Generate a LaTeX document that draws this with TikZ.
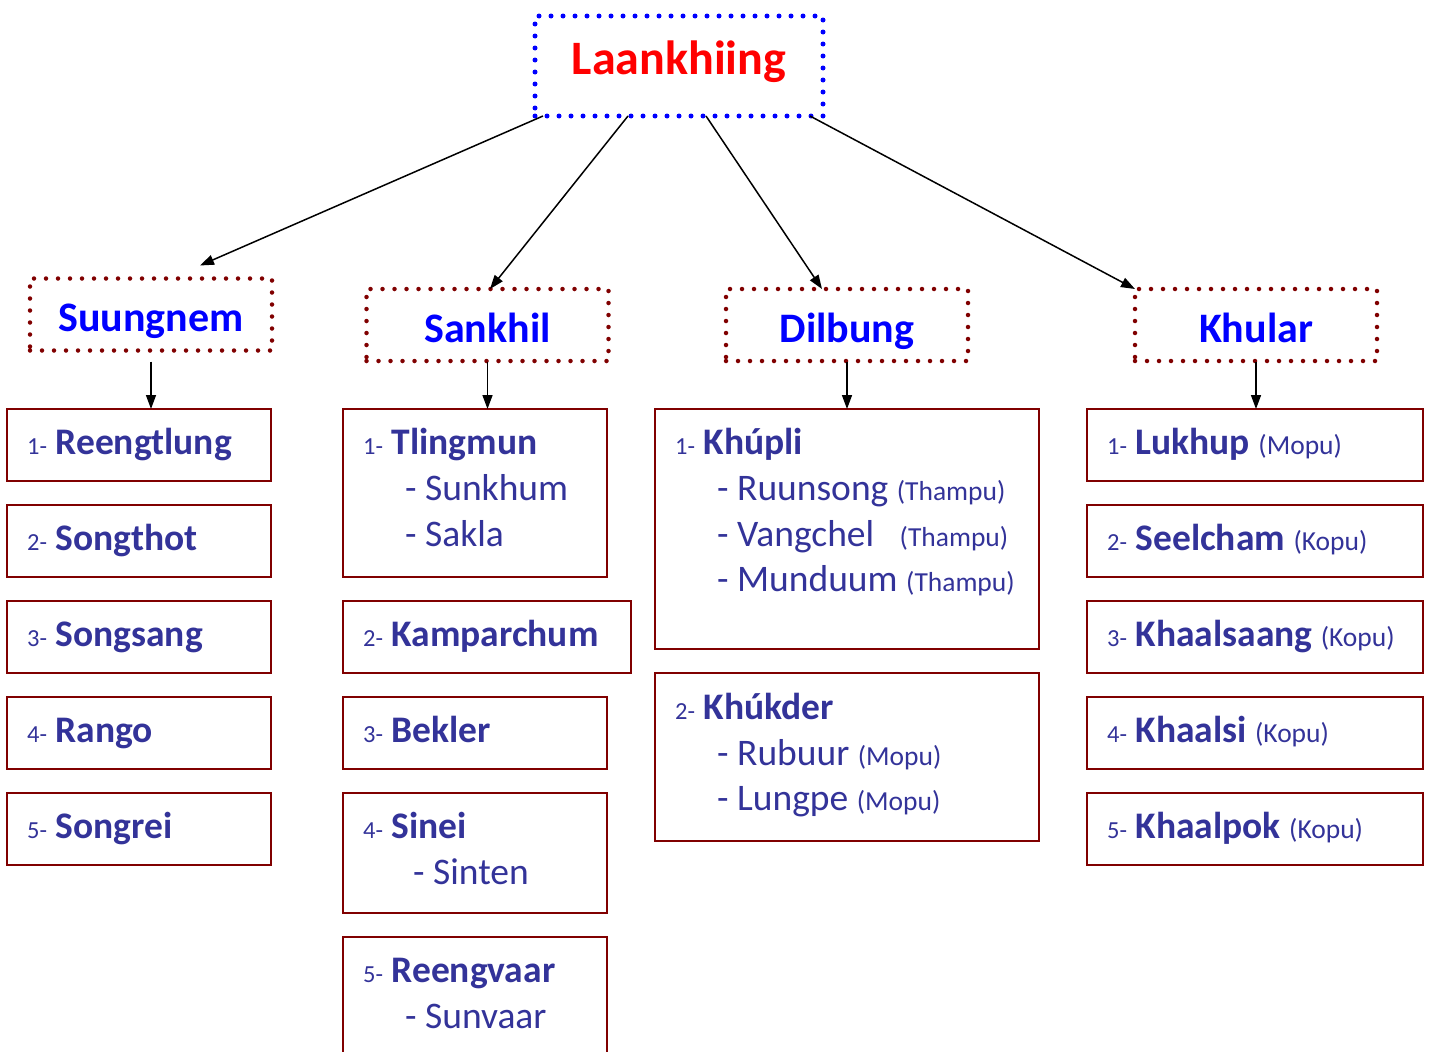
\documentclass[tikz,border=0pt]{standalone}
\usepackage{fontspec}
\setmainfont{Carlito}
\usepackage{xcolor}
\usetikzlibrary{calc,arrows.meta,positioning}
\definecolor{itemblue}{RGB}{51,51,153}
\definecolor{boxred}{RGB}{128,0,0}
\newcommand{\numf}{\fontsize{24.5}{28}\selectfont}
\newcommand{\parf}{\fontsize{27.5}{30}\selectfont}

\begin{document}
\begin{tikzpicture}[
  x=1pt, y=-1pt,
  topbox/.style={draw=blue, line width=5pt, dash pattern=on 0pt off 12pt, line cap=round, minimum width=288pt, minimum height=100pt, outer sep=0pt, text height=16pt, text depth=0pt, text=red, font=\fontsize{48}{56}\selectfont\bfseries},
  catbox/.style={draw=boxred, line width=4.5pt, dash pattern=on 0pt off 12pt, line cap=round, minimum width=242pt, minimum height=72pt, outer sep=0pt, text height=34pt, text depth=0pt, text=blue, font=\fontsize{42}{48}\selectfont\bfseries},
  itembox/.style={draw=boxred, line width=1.2pt, anchor=north west, minimum width=264pt, minimum height=72pt, outer sep=0pt, inner sep=0pt},
  lbl/.style={anchor=base west, inner sep=0pt, text=itemblue, font=\fontsize{37.5}{44}\selectfont},
  arr/.style={-{Triangle[length=14pt, width=10pt]}, line width=1.5pt}
]
\useasboundingbox (0,0) rectangle (1433,1052);
\clip (0,0) rectangle (1433,1052);
\node[topbox] (root) at (679,66) {Laankhiing};
\node[catbox] (c1) at (151,314.5) {Suungnem};
\node[catbox] (c2) at (487.5,325) {Sankhil};
\node[catbox] (c3) at (847,325) {Dilbung};
\node[catbox] (c4) at (1256,325) {Khular};
\draw[arr] ([xshift=8pt]root.south west) -- ([xshift=49pt,yshift=13pt]c1.north);
\draw[arr] ([xshift=-51pt]root.south) -- ([xshift=2.5pt]c2.north);
\draw[arr] ([xshift=27pt]root.south) -- ([xshift=-25pt]c3.north);
\draw[arr] ([xshift=-13pt]root.south east) -- (c4.north west);
% Suungnem
\foreach \name [count=\i] in {Reengtlung,Songthot,Songsang,Rango,Songrei} {
  \node[itembox] (a\i) at (7,{313+96*\i}) {};
  \node[lbl] (ta\i) at ($(a\i.north west)+(20,45)$) {{\numf\i-} \textbf{\name}};
}
% Sankhil
\node[itembox, minimum height=168pt] (b1) at (343,409) {};
\node[lbl] (tb1) at ($(b1.north west)+(20,45)$) {{\numf 1-} \textbf{Tlingmun}};
\node[lbl] (tb1a) at ($(b1.north west)+(62,91)$) {- Sunkhum};
\node[lbl] (tb1b) at ($(b1.north west)+(62,137)$) {- Sakla};
\node[itembox, minimum width=288pt] (b2) at (343,601) {};
\node[lbl] (tb2) at ($(b2.north west)+(20,45)$) {{\numf 2-} \textbf{Kamparchum}};
\node[itembox] (b3) at (343,697) {};
\node[lbl] (tb3) at ($(b3.north west)+(20,45)$) {{\numf 3-} \textbf{Bekler}};
\node[itembox, minimum height=120pt] (b4) at (343,793) {};
\node[lbl] (tb4) at ($(b4.north west)+(20,45)$) {{\numf 4-} \textbf{Sinei}};
\node[lbl] (tb4a) at ($(b4.north west)+(70,91)$) {- Sinten};
\node[itembox, minimum height=140pt] (b5) at (343,937) {};
\node[lbl] (tb5) at ($(b5.north west)+(20,45)$) {{\numf 5-} \textbf{Reengvaar}};
\node[lbl] (tb5a) at ($(b5.north west)+(62,91)$) {- Sunvaar};
% Dilbung
\node[itembox, minimum width=384pt, minimum height=240pt] (e1) at (655,409) {};
\node[lbl] (te1) at ($(e1.north west)+(20,45)$) {{\numf 1-} \textbf{Khúpli}};
\node[lbl] (te1a) at ($(e1.north west)+(62,91)$) {- Ruunsong {\parf(Thampu)}};
\node[lbl] (te1b) at ($(e1.north west)+(62,137)$) {- Vangchel~~~{\parf(Thampu)}};
\node[lbl] (te1c) at ($(e1.north west)+(62,182)$) {- Munduum {\parf(Thampu)}};
\node[itembox, minimum width=384pt, minimum height=168pt] (e2) at (655,673) {};
\node[lbl] (te2) at ($(e2.north west)+(20,46)$) {{\numf 2-} \textbf{Khúkder}};
\node[lbl] (te2a) at ($(e2.north west)+(62,92)$) {- Rubuur {\parf(Mopu)}};
\node[lbl] (te2b) at ($(e2.north west)+(62,137)$) {- Lungpe {\parf(Mopu)}};
% Khular
\foreach \name/\role [count=\i] in {Lukhup/Mopu,Seelcham/Kopu,Khaalsaang/Kopu,Khaalsi/Kopu,Khaalpok/Kopu} {
  \node[itembox, minimum width=336pt] (d\i) at (1087,{313+96*\i}) {};
  \node[lbl] (td\i) at ($(d\i.north west)+(20,45)$) {{\numf\i-} \textbf{\name} {\parf(\role)}};
}
\foreach \i/\j/\s in {c1/a1/11,c2/b1/1,c3/e1/1,c4/d1/1}
  \draw[arr] ([yshift=-\s pt]\i.south) -- (\i.south |- \j.north);
\end{tikzpicture}
\end{document}
